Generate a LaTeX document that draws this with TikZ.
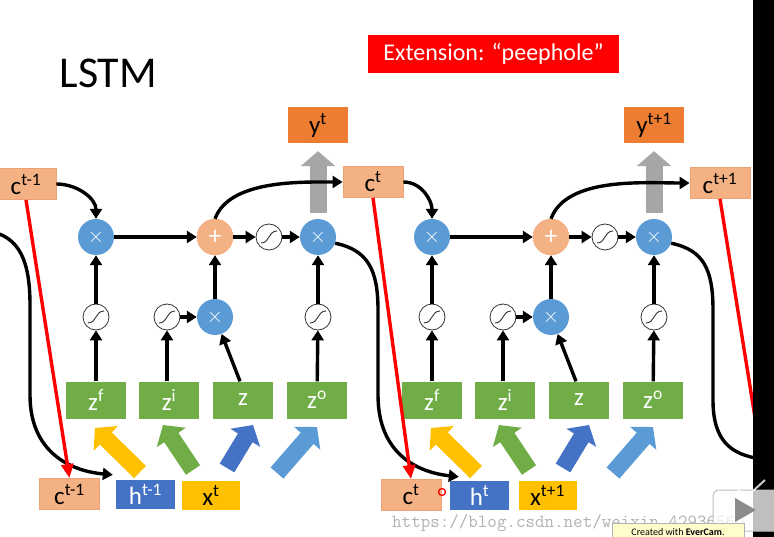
\documentclass[tikz,border=0pt]{standalone}
\usepackage{fontspec}
\setmainfont{Carlito}
\usepackage{tikz}
\usetikzlibrary{arrows.meta}
\definecolor{cellblue}{HTML}{5B9BD5}
\definecolor{cellsalmon}{HTML}{F4B183}
\definecolor{salmonedge}{HTML}{F0A277}
\definecolor{cellgreen}{HTML}{70AD47}
\definecolor{cellorange}{HTML}{ED7D31}
\definecolor{celldarkblue}{HTML}{4472C4}
\definecolor{cellyellow}{HTML}{FFC000}
\definecolor{peepred}{HTML}{FF0000}
\newcommand{\lblsize}{\fontsize{25}{25}\selectfont}

\tikzset{
  x=1pt, y=1pt,
  mul/.style={circle, fill=cellblue, minimum size=36pt, inner sep=0pt, text=white, font=\fontsize{22}{22}\selectfont},
  addc/.style={circle, fill=cellsalmon, draw=salmonedge, minimum size=36pt, inner sep=0pt, text=white, font=\fontsize{26}{26}\selectfont},
  sig/.style={circle, draw=black!80, line width=0.8pt, fill=white, minimum size=26pt, inner sep=0pt,
    path picture={\draw[line width=0.9pt] ([shift={(-8pt,-6pt)}]path picture bounding box.center) .. controls +(9pt,0pt) and +(-9pt,0pt) .. ([shift={(8pt,6pt)}]path picture bounding box.center);}},
  zbox/.style={rectangle, fill=cellgreen, minimum width=60pt, minimum height=37pt, text=white, font=\lblsize},
  cbox/.style={rectangle, fill=cellsalmon, draw=salmonedge, line width=0.8pt, minimum width=60pt, minimum height=31pt, font=\lblsize},
  ybox/.style={rectangle, fill=cellorange, minimum width=60pt, minimum height=36pt, font=\lblsize},
  hbox/.style={rectangle, fill=celldarkblue, minimum width=59pt, minimum height=29pt, text=white, font=\lblsize},
  xbox/.style={rectangle, fill=cellyellow, minimum width=58pt, minimum height=29pt, font=\lblsize},
  arr/.style={line width=3.4pt, -{Triangle[length=10pt, width=12pt]}},
  redarr/.style={peepred, line width=3.4pt, -{Triangle[length=14pt, width=12pt]}},
  fat/.style={line width=17pt, -{Triangle[length=15pt, width=34pt]}},
}

\begin{document}
\begin{tikzpicture}
    \useasboundingbox (0,0) rectangle (774,-537);
    \fill[white] (0,0) rectangle (774,-537);
    \node[anchor=base west, font=\fontsize{44}{44}\selectfont] (title) at (56,-88){LSTM};
    \node[fill=peepred, text=white, minimum width=251pt, minimum height=38pt, font=\fontsize{24}{24}\selectfont] (ext) at (493.5,-54){Extension: ``peephole''};

    % memory cells
    \node[cbox] (cprev) at (26,-184){c\textsuperscript{t-1}};
    \node[cbox] (ct) at (373,-182){c\textsuperscript{t}};
    \node[cbox] (ctn) at (720,-183){c\textsuperscript{t+1}};
    \node[cbox] (cprevb) at (69.5,-494){c\textsuperscript{t-1}};
    \node[cbox] (ctb) at (411,-495){c\textsuperscript{t}};
    \node[hbox] (hprev) at (145.5,-494.5){h\textsuperscript{t-1}};
    \node[hbox] (ht) at (479.5,-495.5){h\textsuperscript{t}};
    \node[xbox] (xt) at (211,-495.5){x\textsuperscript{t}};
    \node[xbox] (xtn) at (547.5,-495){x\textsuperscript{t+1}};

    \foreach \k/\dx/\ylab in {1/0/t, 2/336/t+1} {
      \node[ybox] (y\k) at (318+\dx,-125){y\textsuperscript{\ylab}};
      \node[mul] (fm\k) at (96+\dx,-237){$\times$};
      \node[addc] (ad\k) at (215+\dx,-237){+};
      \node[sig] (sa\k) at (269+\dx,-237){};
      \node[mul] (mo\k) at (318+\dx,-237){$\times$};
      \node[sig] (sf\k) at (96+\dx,-317){};
      \node[sig] (si\k) at (167+\dx,-317){};
      \node[mul] (mi\k) at (215+\dx,-317){$\times$};
      \node[sig] (so\k) at (318+\dx,-317){};
      \node[zbox] (zf\k) at (96+\dx,-400){z\textsuperscript{f}};
      \node[zbox] (zi\k) at (169+\dx,-400){z\textsuperscript{i}};
      \node[zbox] (zz\k) at (243+\dx,-400){z};
      \node[zbox] (zo\k) at (317+\dx,-400){z\textsuperscript{o}};
      % inputs into the gates
      \draw[fat, cellyellow] (140+\dx,-472)--(95+\dx,-428);
      \draw[fat, cellgreen] (193+\dx,-470)--(163+\dx,-425);
      \draw[fat, celldarkblue] (227+\dx,-468)--(253+\dx,-425);
      \draw[fat, cellblue] (277+\dx,-473)--(317+\dx,-427);
      \draw[fat, black!35] ([yshift=6pt]mo\k.north)--([yshift=-8pt]y\k.south);
      \draw[arr] (zf\k)--(sf\k);
      \draw[arr] (sf\k)--(fm\k);
      \draw[arr] (zi\k.north -| si\k)--(si\k);
      \draw[arr] (si\k)--(mi\k);
      \draw[arr] ([xshift=-3pt]zz\k.north)--(mi\k);
      \draw[arr] (mi\k)--(ad\k);
      \draw[arr] (fm\k)--(ad\k);
      \draw[arr] (ad\k)--(sa\k);
      \draw[arr] (sa\k)--(mo\k);
      \draw[arr] (zo\k)--(so\k);
      \draw[arr] (so\k)--(mo\k);
    }

    \draw[arr] (cprev.east) to[out=0, in=90] (fm1.north);
    \draw[arr] (ct.east) to[out=0, in=90] (fm2.north);
    \draw[arr] (ad1.north) to[out=70, in=180, looseness=0.8] (ct.west);
    \draw[arr] (ad2.north) to[out=70, in=180, looseness=0.8] (ctn.west);

    % outputs fed back as h
    \coordinate (moprev) at (-12,-231);
    \coordinate (hnext) at (762,-459);
    \draw[arr] (moprev) .. controls (20,-236) and (30,-262) .. (30,-305) -- (30,-395) .. controls (30,-452) and (70,-471) .. ([xshift=-3pt,yshift=5pt]hprev.north west);
    \draw[arr] (mo1.-20) .. controls (368,-250) and (378,-270) .. (378,-310) -- (378,-395) .. controls (378,-452) and (415,-472) .. ([xshift=9pt,yshift=4pt]ht.north west);
    \draw[line width=3.4pt] (mo2.-20) .. controls (704,-250) and (713,-270) .. (713,-310) -- (713,-400) .. controls (713,-440) and (730,-455) .. (hnext);

    % peephole
    \coordinate (ctnb) at (765,-480);
    \draw[redarr] (cprev.south)--(cprevb.north);
    \draw[redarr] (ct.south)--(ctb.north);
    \draw[redarr] (ctn.south)--(ctnb);

    \fill[black] (753,0) rectangle (774,-537);
    \draw[peepred, line width=1.3pt] (442,-492) circle (3.5pt);
    \node[anchor=base west, inner sep=0pt, text=black!30, font=\ttfamily\fontsize{18.5}{18.5}\selectfont] (wm) at (392,-527){https://blog.csdn.net/weixin\_42936560};
    \filldraw[fill=white, draw=black!25, fill opacity=0.75, line width=1pt, rounded corners=6pt] (713,-490) rectangle (790,-531);
    \draw[white, opacity=0.8, line width=2pt] (728,-480)--(740,-491) (765,-480)--(753,-491);
    \fill[black!45] (735,-498)--(735,-522)--(756,-510)--cycle;
    \node[fill=yellow!20, draw=black!30, inner sep=1pt, minimum width=132pt, minimum height=18pt, font=\fontsize{10}{10}\selectfont] (ec) at (678,-532){Created with \textbf{EverCam}.};
  \end{tikzpicture}
\end{document}
